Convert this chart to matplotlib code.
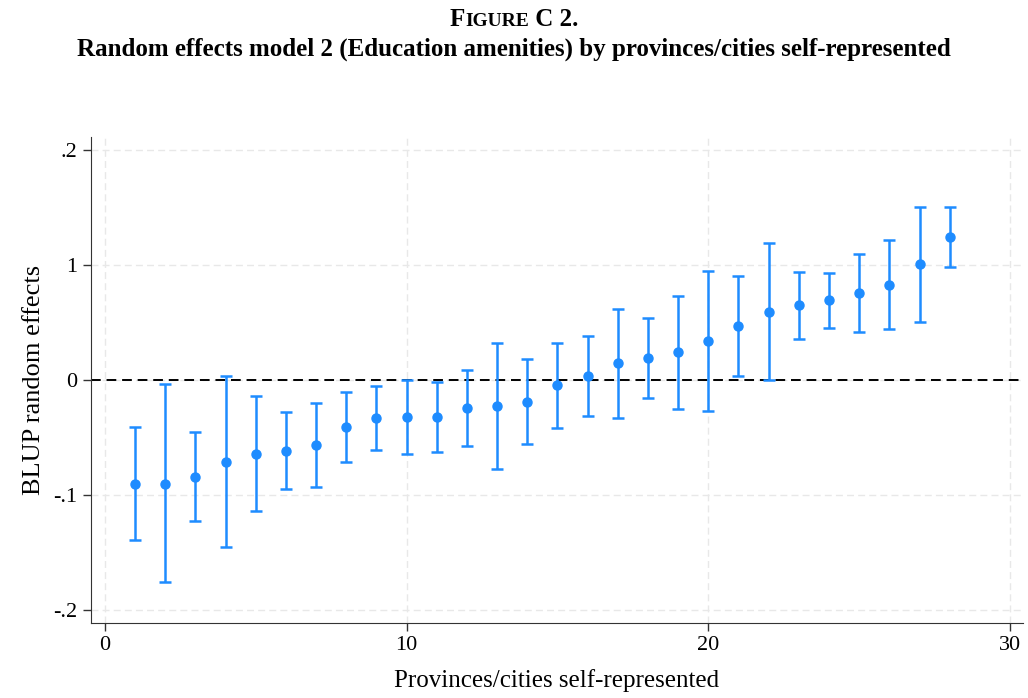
import numpy as np
import matplotlib
matplotlib.use("Agg")
import matplotlib.pyplot as plt
from matplotlib.offsetbox import TextArea, HPacker, AnchoredOffsetbox

plt.rcParams['font.family'] = ['Liberation Serif', 'DejaVu Serif']

# BLUP random effects per province/city
rank = np.arange(1, 29)
effect = [-0.090, -0.090, -0.084, -0.071, -0.064, -0.062, -0.0565, -0.041,
          -0.033, -0.0325, -0.0325, -0.0246, -0.0226, -0.0194, -0.0046, 0.0035,
          0.0148, 0.0188, 0.024, 0.0342, 0.047, 0.0594, 0.0655, 0.0693,
          0.076, 0.083, 0.1006, 0.124]
upper = [-0.0406, -0.0035, -0.045, 0.0035, -0.014, -0.028, -0.020, -0.0104,
         -0.005, 0.0, -0.0014, 0.0087, 0.0319, 0.0183, 0.0325, 0.038,
         0.062, 0.054, 0.073, 0.0948, 0.0907, 0.119, 0.094, 0.0928,
         0.1096, 0.122, 0.150, 0.150]
lower = [-0.139, -0.176, -0.123, -0.145, -0.114, -0.095, -0.093, -0.071,
         -0.061, -0.0646, -0.063, -0.057, -0.077, -0.056, -0.0414, -0.031,
         -0.033, -0.016, -0.025, -0.0267, 0.0035, 0.0, 0.036, 0.0455,
         0.042, 0.044, 0.0507, 0.098]

yticks = [-0.2, -0.1, 0, 0.1, 0.2]
ytick_labels = ['-.2', '-.1', '0', '1', '.2']
xticks = [0, 10, 20, 30]

effect = np.array(effect)
yerr = [effect - np.array(lower), np.array(upper) - effect]

fig = plt.figure(figsize=(10.28, 6.98), dpi=100)
ax = fig.add_axes([91/1028, 1 - 623/698, (1023-91)/1028, (623-137)/698])

blue = '#1E8CFF'
ax.errorbar(rank, effect, yerr=yerr, fmt='o', color=blue, ecolor=blue,
            markersize=6.5, elinewidth=1.8, capsize=4, capthick=1.8, zorder=3)
ax.axhline(0, color='black', linestyle=(0, (5, 3)), linewidth=1.4, zorder=2)

ax.set_xlim(-0.46, 30.43)
ax.set_ylim(-0.2113, 0.2113)
ax.set_xticks(xticks)
ax.set_yticks(yticks)
ax.set_yticklabels(ytick_labels)
ax.grid(True, color='#e8e8e8', linestyle=(0, (5, 3)), linewidth=1.0, zorder=0)
ax.tick_params(labelsize=16, length=6, width=1, color='#333333')
ax.tick_params(axis='y', pad=4)
for side in ['top', 'right']:
    ax.spines[side].set_visible(False)
for side in ['left', 'bottom']:
    ax.spines[side].set_color('#333333')

ax.set_xlabel('Provinces/cities self-represented', fontsize=18, labelpad=10)
ax.set_ylabel('BLUP random effects', fontsize=19, labelpad=6)

# small-caps style heading
parts = [TextArea('F', textprops=dict(fontsize=18, fontweight='bold')),
         TextArea('IGURE', textprops=dict(fontsize=14, fontweight='bold')),
         TextArea(' C 2.', textprops=dict(fontsize=18, fontweight='bold'))]
head = HPacker(children=parts, align='baseline', pad=0, sep=0)
box = AnchoredOffsetbox(loc='upper center', child=head, pad=0, frameon=False,
                        bbox_to_anchor=(0.5, 1 - 8/698),
                        bbox_transform=fig.transFigure, borderpad=0)
fig.add_artist(box)
fig.text(0.5, 1 - 49/698,
         'Random effects model 2 (Education amenities) by provinces/cities self-represented',
         ha='center', va='center', fontsize=18, fontweight='bold')

fig.savefig('out.png', dpi=100)
